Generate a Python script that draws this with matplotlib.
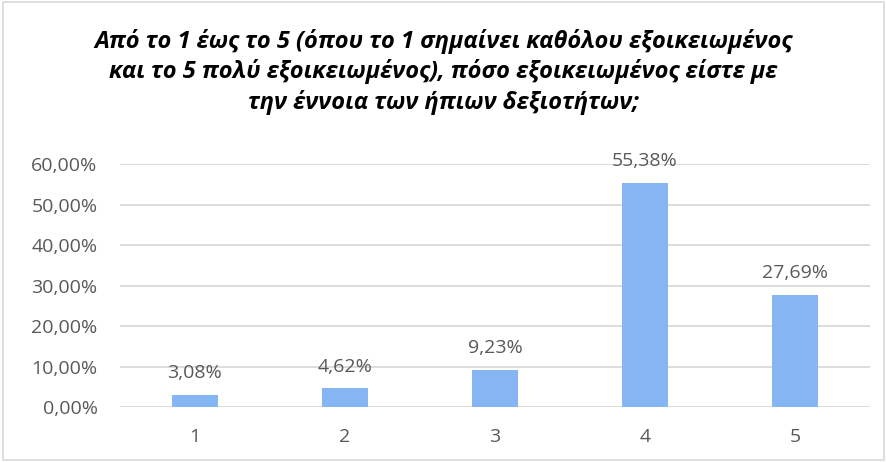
import matplotlib.pyplot as plt
from matplotlib.patches import Rectangle

categories = ['1', '2', '3', '4', '5']
values = [3.08, 4.62, 9.23, 55.38, 27.69]
yticks = [0, 10, 20, 30, 40, 50, 60]

title = ('Από το 1 έως το 5 (όπου το 1 σημαίνει καθόλου εξοικειωμένος\n'
         'και το 5 πολύ εξοικειωμένος), πόσο εξοικειωμένος είστε με\n'
         'την έννοια των ήπιων δεξιοτήτων;')

plt.rcParams['font.family'] = ['Open Sans', 'DejaVu Sans']

fig = plt.figure(figsize=(8.87, 4.62), dpi=100)
ax = fig.add_axes([0.135, 0.119, 0.846, 0.526])

x = range(len(categories))
ax.bar(x, values, width=0.31, color='#85B5F2', zorder=3)
for i, v in zip(x, values):
    ax.annotate(f'{v:.2f}%'.replace('.', ','), (i, v), xytext=(0, 9),
                textcoords='offset points', ha='center', va='bottom',
                fontsize=14, color='#595959')

ax.set_xlim(-0.5, len(categories) - 0.5)
ax.set_ylim(0, 60)
ax.set_yticks(yticks)
ax.set_yticklabels([f'{t:.2f}%'.replace('.', ',') for t in yticks])
ax.set_xticks(list(x))
ax.set_xticklabels(categories)
ax.tick_params(length=0, labelsize=14, colors='#595959')
ax.tick_params(axis='y', pad=16)
ax.tick_params(axis='x', pad=15)
ax.yaxis.grid(True, color='#D9D9D9', linewidth=1.3, zorder=0)
for s in ax.spines.values():
    s.set_visible(False)

fig.text(0.5, 0.937, title, ha='center', va='top', fontsize=17,
         fontweight='bold', fontstyle='italic', linespacing=1.28)

fig.patches.append(Rectangle((0.003, 0.004), 0.994, 0.992, transform=fig.transFigure,
                             fill=False, edgecolor='#D9D9D9', linewidth=1.2))

fig.savefig('out.png', dpi=100)
